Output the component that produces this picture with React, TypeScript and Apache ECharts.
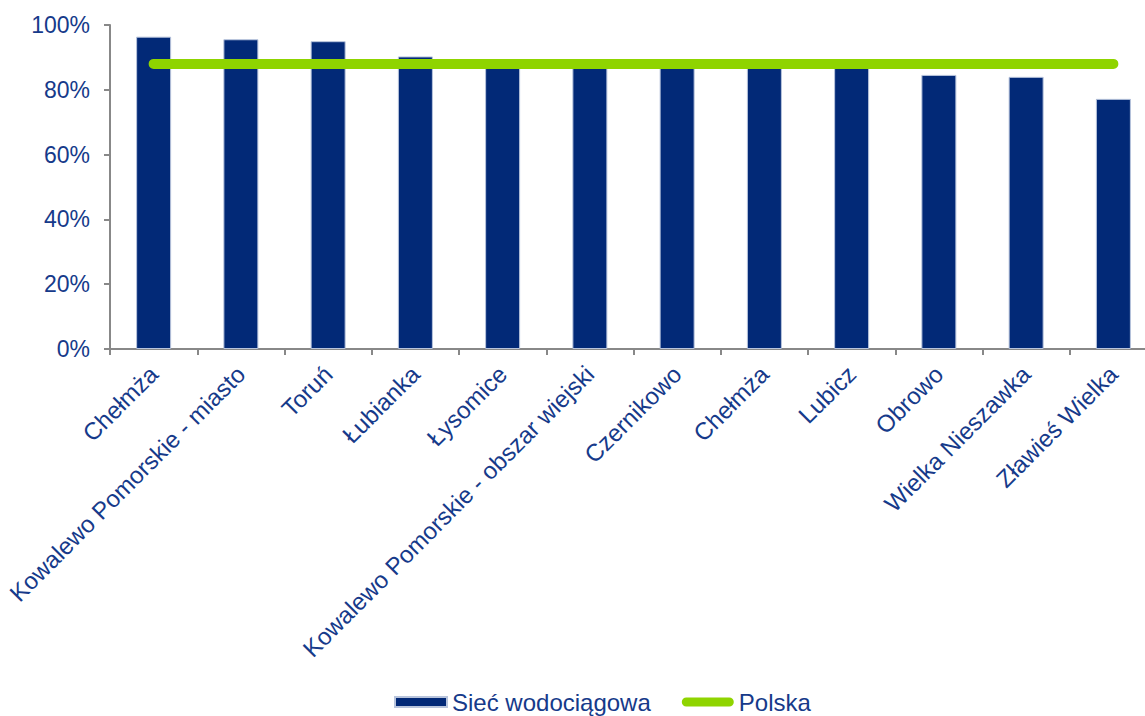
import React, { useEffect, useRef } from "react";
import * as echarts from "echarts";

const categories = [
  "Chełmża",
  "Kowalewo Pomorskie - miasto",
  "Toruń",
  "Łubianka",
  "Łysomice",
  "Kowalewo Pomorskie - obszar wiejski",
  "Czernikowo",
  "Chełmża",
  "Lubicz",
  "Obrowo",
  "Wielka Nieszawka",
  "Zławieś Wielka",
];
const siecValues = [96.4, 95.6, 95.0, 90.3, 88.0, 87.8, 87.6, 87.9, 88.2, 84.6, 84.0, 77.2];
const polskaValues = [88, 88, 88, 88, 88, 88, 88, 88, 88, 88, 88, 88];
const yTicks = [0, 20, 40, 60, 80, 100];

const TEXT = "#163A8A";
const FONT = "Liberation Sans, Arial, sans-serif";

export default function App() {
  const ref = useRef<HTMLDivElement>(null);
  useEffect(() => {
    if (!ref.current) return;
    const chart = echarts.init(ref.current, null, { renderer: "svg" });
    chart.setOption({
      animation: false,
      textStyle: { fontFamily: FONT },
      grid: { left: 110, right: 0, top: 25, bottom: 367 },
      legend: {
        left: 389,
        top: 685,
        itemGap: 31,
        itemWidth: 52,
        itemHeight: 10,
        textStyle: { color: TEXT, fontSize: 24, fontFamily: FONT },
        data: [
          { name: "Sieć wodociągowa", icon: "rect" },
          {
            name: "Polska",
            icon: "path://M5,0 L53,0 A5,5 0 0 1 53,10 L5,10 A5,5 0 0 1 5,0 Z",
          },
        ],
      },
      xAxis: {
        type: "category",
        data: categories,
        axisLine: { lineStyle: { color: "#888888", width: 2 } },
        axisTick: { show: true, length: 6, lineStyle: { color: "#888888", width: 2 } },
        axisLabel: {
          rotate: 45,
          interval: 0,
          color: TEXT,
          fontSize: 24,
          fontFamily: FONT,
          margin: 21,
        },
      },
      yAxis: {
        type: "value",
        min: yTicks[0],
        max: yTicks[yTicks.length - 1],
        interval: 20,
        splitLine: { show: false },
        axisLine: { show: true, lineStyle: { color: "#888888", width: 2 } },
        axisTick: { show: true, length: 6, lineStyle: { color: "#888888", width: 2 } },
        axisLabel: {
          formatter: "{value}%",
          color: TEXT,
          fontSize: 23,
          fontFamily: FONT,
          margin: 20,
        },
      },
      series: [
        {
          name: "Sieć wodociągowa",
          type: "bar",
          data: siecValues,
          barWidth: 35,
          itemStyle: { color: "#022977", borderColor: "#B8C4DC", borderWidth: 1 },
          z: 2,
        },
        {
          name: "Polska",
          type: "line",
          data: polskaValues,
          showSymbol: false,
          symbol: "none",
          lineStyle: { color: "#8FD400", width: 10, cap: "round" },
          itemStyle: { color: "#8FD400" },
          z: 3,
        },
      ],
    });
    return () => chart.dispose();
  }, []);
  return (
    <div
      style={{
        position: "absolute",
        left: 0,
        top: 0,
        width: 1145,
        height: 716,
        overflow: "hidden",
        background: "#fff",
      }}
    >
      <div ref={ref} style={{ width: 1157, height: 716 }} />
    </div>
  );
}
